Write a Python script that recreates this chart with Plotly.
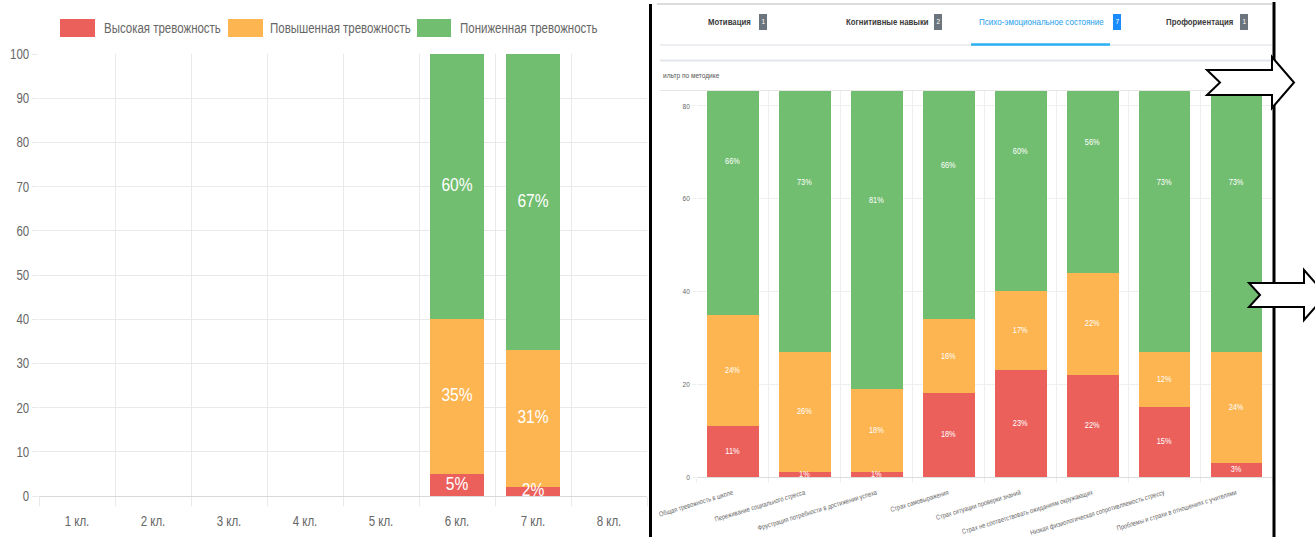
import plotly.graph_objects as go

W, H = 1315, 537
FONT = "Liberation Sans, Arial, Helvetica, sans-serif"

# ---------------- data ----------------
left_categories = ["1 кл.", "2 кл.", "3 кл.", "4 кл.", "5 кл.", "6 кл.", "7 кл.", "8 кл."]
left_high = [None, None, None, None, None, 5, 2, None]
left_elevated = [None, None, None, None, None, 35, 31, None]
left_low = [None, None, None, None, None, 60, 67, None]

right_categories = [
    "Общая тревожность в школе",
    "Переживание социального стресса",
    "Фрустрация потребности в достижении успеха",
    "Страх самовыражения",
    "Страх ситуации проверки знаний",
    "Страх не соответствовать ожиданиям окружающих",
    "Низкая физиологическая сопротивляемость стрессу",
    "Проблемы и страхи в отношениях с учителями",
]
right_high = [11, 1, 1, 18, 23, 22, 15, 3]
right_elevated = [24, 26, 18, 16, 17, 22, 12, 24]
right_low = [66, 73, 81, 66, 60, 56, 73, 73]

series_names = ["Высокая тревожность", "Повышенная тревожность", "Пониженная тревожность"]
colors = ["#EC605C", "#FDB551", "#72BE70"]

tabs = ["Мотивация", "Когнитивные навыки", "Психо-эмоциональное состояние", "Профориентация"]
tab_counts = ["1", "2", "7", "1"]


def px(x):
    return x / W


def py(y):
    return 1 - y / H


fig = go.Figure()


def add_stack(xref, yref, highs, elevs, lows, text_size):
    idx = list(range(len(highs)))
    series = [highs, elevs, lows]
    for s, col in zip(series, colors):
        fig.add_trace(go.Bar(
            x=idx, y=s, marker=dict(color=col, line=dict(width=0)),
            width=0.72, xaxis=xref, yaxis=yref, showlegend=False,
            hoverinfo="skip"))
    # labels at the middle of each segment
    cum = [0 if v is not None else None for v in highs]
    for s in series:
        xs, ys, ts = [], [], []
        for i, v in enumerate(s):
            if v is None:
                continue
            xs.append(i)
            ys.append(cum[i] + v / 2)
            ts.append(f"{v}%")
            cum[i] += v
        fig.add_trace(go.Scatter(
            x=xs, y=ys, text=ts, mode="text", textposition="middle center",
            textfont=dict(color="white", size=text_size, family=FONT),
            xaxis=xref, yaxis=yref, showlegend=False, cliponaxis=True,
            hoverinfo="skip"))


add_stack("x", "y", left_high, left_elevated, left_low, 19)
add_stack("x2", "y2", right_high, right_elevated, right_low, 9)

grid = "#E9E9E9"

fig.update_layout(
    template="none",
    width=W, height=H, autosize=False,
    margin=dict(l=0, r=0, t=0, b=0, pad=0),
    paper_bgcolor="white", plot_bgcolor="white",
    barmode="stack", bargap=0,
    font=dict(family=FONT),
    xaxis=dict(
        domain=[px(39), px(647)], range=[-0.5, 7.5], automargin=False,
        tickmode="array", tickvals=list(range(8)), ticktext=left_categories,
        ticks="outside", ticklen=12, tickcolor="rgba(0,0,0,0)",
        showgrid=False, zeroline=False, showline=False,
        tickfont=dict(size=14, color="#666666", family=FONT),
        minor=dict(tickmode="linear", tick0=0.5, dtick=1, showgrid=True,
                   gridcolor=grid, gridwidth=1, ticks="outside", ticklen=9, tickcolor=grid),
        anchor="y", fixedrange=True,
    ),
    yaxis=dict(
        domain=[py(496), py(54)], range=[0, 100], automargin=False,
        tickmode="linear", tick0=0, dtick=10,
        showgrid=True, gridcolor=grid, gridwidth=1,
        zeroline=True, zerolinecolor="#D9D9D9", zerolinewidth=1,
        ticks="outside", ticklen=6, tickcolor=grid,
        tickfont=dict(size=14, color="#666666", family=FONT),
        anchor="x", fixedrange=True,
    ),
    xaxis2=dict(
        domain=[px(696.5), px(1272)], range=[-0.5, 7.5], automargin=False,
        tickmode="array", tickvals=list(range(8)), ticktext=right_categories,
        tickangle=-17,
        ticks="outside", ticklen=8, tickcolor="rgba(0,0,0,0)",
        showgrid=False, zeroline=False, showline=False,
        tickfont=dict(size=7, color="#666666", family=FONT),
        minor=dict(tickmode="linear", tick0=0.5, dtick=1, showgrid=True,
                   gridcolor="#EFEFEF", gridwidth=1, ticks="outside", ticklen=5,
                   tickcolor="#EFEFEF"),
        anchor="y2", fixedrange=True,
    ),
    yaxis2=dict(
        domain=[py(477), py(91)], range=[0, 83.2], automargin=False,
        tickmode="array", tickvals=[0, 20, 40, 60, 80],
        showgrid=True, gridcolor="#EFEFEF", gridwidth=1,
        zeroline=True, zerolinecolor="#DCDCDC", zerolinewidth=1,
        ticks="outside", ticklen=4, tickcolor="#EFEFEF",
        tickfont=dict(size=8, color="#666666", family=FONT),
        anchor="x2", fixedrange=True,
    ),
)

shapes = []
annotations = []

# ---- left legend ----
legend_boxes = [(60, 95, 102), (228, 263, 268), (417, 451, 458)]
for (x0, x1, tx), name, col in zip(legend_boxes, series_names, colors):
    shapes.append(dict(type="rect", xref="paper", yref="paper",
                       x0=px(x0), x1=px(x1), y0=py(37), y1=py(19),
                       fillcolor=col, line=dict(width=0)))
    annotations.append(dict(xref="paper", yref="paper", x=px(tx), y=py(28),
                            xanchor="left", yanchor="middle", showarrow=False,
                            text=name, font=dict(size=14, color="#666666", family=FONT)))

# ---- right panel (web page screenshot) ----
shapes.append(dict(type="line", xref="paper", yref="paper", x0=px(657), x1=px(1272),
                   y0=py(4), y1=py(4), line=dict(color="#DDDDDD", width=2)))
shapes.append(dict(type="line", xref="paper", yref="paper", x0=px(660), x1=px(1272),
                   y0=py(45), y1=py(45), line=dict(color="#E6E9EC", width=1.5)))
shapes.append(dict(type="line", xref="paper", yref="paper", x0=px(660), x1=px(1272),
                   y0=py(60.5), y1=py(60.5), line=dict(color="#E3E6EA", width=2)))
shapes.append(dict(type="line", xref="paper", yref="paper", x0=px(660), x1=px(1272),
                   y0=py(90.5), y1=py(90.5), line=dict(color="#E6E6E6", width=1)))
# active tab underline
shapes.append(dict(type="line", xref="paper", yref="paper", x0=px(971), x1=px(1110),
                   y0=py(44.5), y1=py(44.5), line=dict(color="#2BB0F0", width=2.5)))

tab_pos = [(706, 759), (844, 934), (977, 1113), (1164, 1240)]
for (tx, bx), name, cnt in zip(tab_pos, tabs, tab_counts):
    active = name.startswith("Психо")
    annotations.append(dict(xref="paper", yref="paper", x=px(tx), y=py(22),
                            xanchor="left", yanchor="middle", showarrow=False,
                            text=name,
                            font=dict(size=9.8 if active else 9.5,
                                      color="#1E9EEA" if active else "#3A3A3A",
                                      family=FONT, weight=400 if active else 700)))
    shapes.append(dict(type="rect", xref="paper", yref="paper",
                       x0=px(bx), x1=px(bx + 8), y0=py(30), y1=py(14),
                       fillcolor="#1A8CFF" if active else "#6C757D", line=dict(width=0)))
    annotations.append(dict(xref="paper", yref="paper", x=px(bx + 4.5), y=py(22),
                            xanchor="center", yanchor="middle", showarrow=False,
                            text=cnt, font=dict(size=8, color="white", family=FONT)))

annotations.append(dict(xref="paper", yref="paper", x=px(661), y=py(76),
                        xanchor="left", yanchor="middle", showarrow=False,
                        text="ильтр по методике",
                        font=dict(size=8, color="#555555", family=FONT)))

# ---- black separator lines ----
shapes.append(dict(type="line", xref="paper", yref="paper", x0=px(650.5), x1=px(650.5),
                   y0=py(4), y1=py(537), line=dict(color="black", width=3), layer="above"))
shapes.append(dict(type="line", xref="paper", yref="paper", x0=px(1274), x1=px(1274),
                   y0=py(2), y1=py(537), line=dict(color="black", width=3), layer="above"))


# ---- block arrows ----
def arrow_path(pts):
    return "M " + " L ".join(f"{px(x)},{py(y)}" for x, y in pts) + " Z"


arrow1 = [(1207, 70), (1272, 70), (1272, 57), (1294, 82.5), (1272, 108),
          (1272, 95), (1207, 95), (1220, 82.5)]
arrow2 = [(1249, 283), (1304, 283), (1304, 270), (1326, 295), (1304, 320),
          (1304, 307), (1249, 307), (1260, 295)]
for a in (arrow1, arrow2):
    shapes.append(dict(type="path", xref="paper", yref="paper", path=arrow_path(a),
                       fillcolor="white", line=dict(color="black", width=2), layer="above"))

fig.update_layout(shapes=shapes, annotations=annotations)

# Remove the page margin and render the text horizontally condensed like the
# reference (each text squeezed around its own anchor point).
post = """
(function(){
  document.documentElement.style.margin = '0';
  document.body.style.margin = '0';
  document.body.style.padding = '0';
  var gd = document.getElementById('{plot_id}');
  var K = 0.82;
  function squeeze(){
    gd.querySelectorAll('svg text').forEach(function(el){
      var t = el.getAttribute('transform') || '';
      if (t.indexOf('scale(' + K + ',1)') !== -1) return;
      var x;
      if (el.closest('.annotation')) {
        var b = el.getBBox();
        var txt = el.textContent || '';
        x = (txt.length <= 1) ? b.x + b.width / 2 : b.x;
      } else {
        x = parseFloat(el.getAttribute('x')) || 0;
      }
      el.setAttribute('transform', t + ' translate(' + x + ',0) scale(' + K + ',1) translate(' + (-x) + ',0)');
    });
  }
  squeeze();
  if (gd.on) gd.on('plotly_afterplot', squeeze);
})();
"""

fig.write_html("out.html", post_script=post, config={"displayModeBar": False})
